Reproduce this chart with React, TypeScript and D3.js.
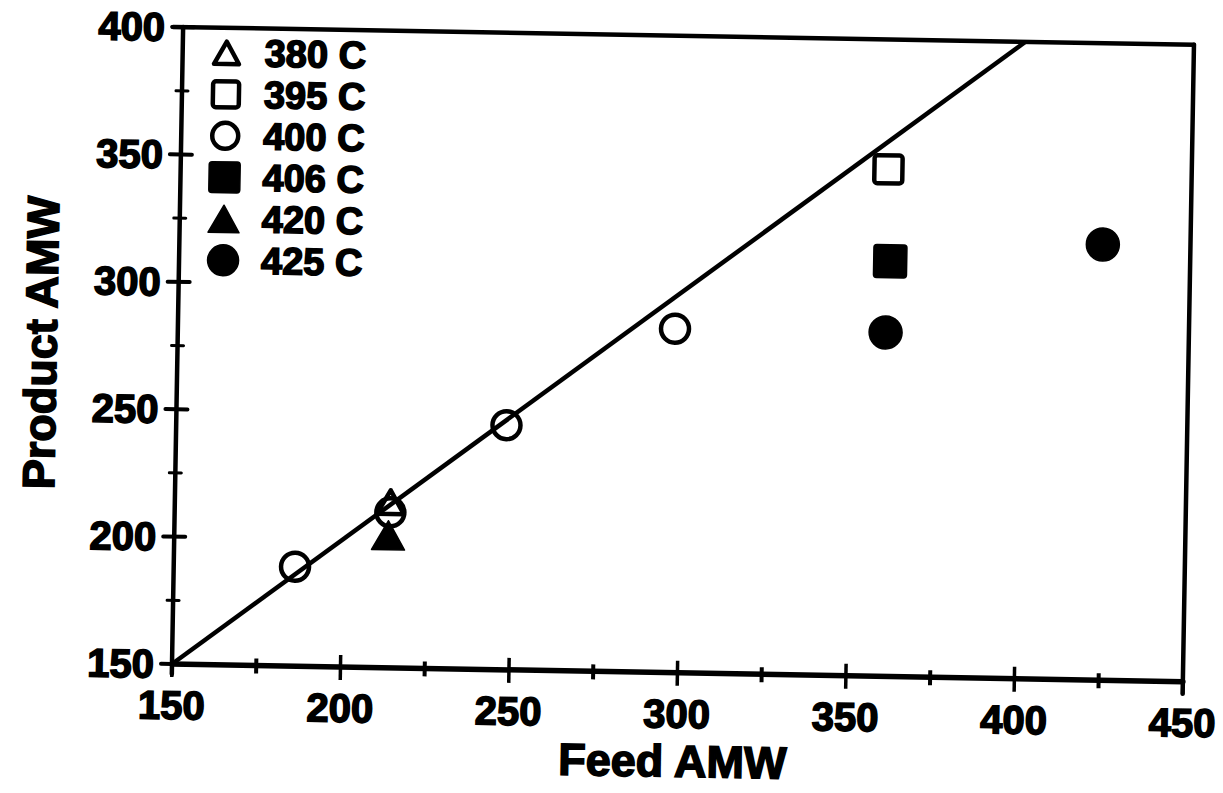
import React from "react";
import * as d3 from "d3";

// Series: reactor temperature, with feed vs. product average molecular weight
const temps = ["380 C", "395 C", "400 C", "406 C", "420 C", "425 C"];
const feedAMW: number[][] = [
  [214],
  [360],
  [186, 214, 248, 297.5],
  [361],
  [213.5],
  [360, 424],
];
const productAMW: number[][] = [
  [215],
  [349],
  [189, 211, 246, 285],
  [313],
  [202],
  [285, 321],
];

// Parity line (product = feed)
const parityX = [150, 400];
const parityY = [150, 400];

const xMajor = [150, 200, 250, 300, 350, 400, 450];
const xMinor = [175, 225, 275, 325, 375, 425];
const yMajor = [150, 200, 250, 300, 350, 400];
const yMinor = [175, 225, 275, 325, 375];

type Shape = "triangle" | "square" | "circle";
const shapes: Shape[] = ["triangle", "square", "circle", "square", "triangle", "circle"];
const filled = [false, false, false, true, true, true];

const W = 1223;
const H = 793;
const left = 172;
const right = 1183;
const top = 27;
const bottom = 664;
const FONT = "'Liberation Sans', Arial, sans-serif";

function Marker({ cx, cy, shape, solid, s }: { cx: number; cy: number; shape: Shape; solid: boolean; s: number }) {
  const sw = solid ? 1.5 : 4.5;
  const common = {
    fill: solid ? "#000" : "none",
    stroke: "#000",
    strokeWidth: sw,
    strokeLinejoin: "round" as const,
  };
  if (shape === "circle") {
    const r = solid ? s / 2 : s / 2 - 2.5;
    return <circle cx={cx} cy={cy} r={r} {...common} />;
  }
  if (shape === "square") {
    const h = solid ? s : s - 5;
    return <rect x={cx - h / 2} y={cy - h / 2} width={h} height={h} rx={3} {...common} />;
  }
  const hw = solid ? s / 2 : s / 2 - 3;
  const hh = solid ? s * 0.44 : s * 0.36;
  const p = d3.path();
  p.moveTo(cx, cy - hh);
  p.lineTo(cx + hw, cy + hh);
  p.lineTo(cx - hw, cy + hh);
  p.closePath();
  return <path d={p.toString()} {...common} />;
}

export default function App() {
  const x = d3.scaleLinear().domain([150, 450]).range([left, right]);
  const y = d3.scaleLinear().domain([150, 400]).range([bottom, top]);
  const line = d3
    .line<number>()
    .x((d) => x(parityX[d]))
    .y((d) => y(parityY[d]));

  const axisStroke = 4.5;
  const legendY0 = 52;
  const legendStep = 41.5;
  const textStroke = 1.6;

  return (
    <svg
      width={W}
      height={H}
      style={{ position: "absolute", left: 0, top: 0, background: "#fff" }}
    >
      <rect width={W} height={H} fill="#fff" />
      <g transform={`rotate(1, ${left}, ${bottom})`}>
        {/* frame */}
        <line x1={left - 10} y1={top} x2={right} y2={top} stroke="#000" strokeWidth={axisStroke} strokeLinecap="round" />
        <line x1={right} y1={top} x2={right} y2={bottom + 12} stroke="#000" strokeWidth={axisStroke} strokeLinecap="round" />
        <line x1={left} y1={bottom} x2={right} y2={bottom} stroke="#000" strokeWidth={axisStroke + 1} strokeLinecap="round" />
        <line x1={left} y1={top} x2={left} y2={bottom + 10} stroke="#000" strokeWidth={axisStroke} strokeLinecap="round" />

        {/* x ticks */}
        {xMajor.map((v) => (
          <line key={`xM${v}`} x1={x(v)} x2={x(v)} y1={bottom - 12} y2={bottom + 13} stroke="#000" strokeWidth={3.5} />
        ))}
        {xMinor.map((v) => (
          <line key={`xm${v}`} x1={x(v)} x2={x(v)} y1={bottom - 7} y2={bottom + 8} stroke="#000" strokeWidth={4} />
        ))}
        {/* y ticks */}
        {yMajor.map((v) => (
          <line key={`yM${v}`} x1={left - 11} x2={left + 11} y1={y(v)} y2={y(v)} stroke="#000" strokeWidth={4} strokeLinecap="round" />
        ))}
        {yMinor.map((v) => (
          <line key={`ym${v}`} x1={left - 6} x2={left + 6} y1={y(v)} y2={y(v)} stroke="#000" strokeWidth={3} strokeLinecap="round" />
        ))}

        {/* tick labels */}
        {xMajor.map((v) => (
          <text
            key={`xl${v}`}
            x={x(v)}
            y={bottom + 55}
            textAnchor="middle"
            fontFamily={FONT}
            fontWeight="bold"
            fontSize={40}
            stroke="#000"
            strokeWidth={textStroke}
          >
            {v}
          </text>
        ))}
        {yMajor.map((v) => (
          <text
            key={`yl${v}`}
            x={left - 18}
            y={y(v) + 14}
            textAnchor="end"
            fontFamily={FONT}
            fontWeight="bold"
            fontSize={40}
            stroke="#000"
            strokeWidth={textStroke}
          >
            {v}
          </text>
        ))}

        {/* axis titles */}
        <text
          x={674}
          y={768}
          textAnchor="middle"
          fontFamily={FONT}
          fontWeight="bold"
          fontSize={45}
          stroke="#000"
          strokeWidth={textStroke}
        >
          Feed AMW
        </text>
        <text
          transform={`translate(51, 345) rotate(-90)`}
          textAnchor="middle"
          fontFamily={FONT}
          fontWeight="bold"
          fontSize={45}
          stroke="#000"
          strokeWidth={textStroke}
        >
          Product AMW
        </text>

        {/* parity line */}
        <path d={line([0, 1]) || ""} fill="none" stroke="#000" strokeWidth={4.5} />

        {/* data */}
        {temps.map((t, i) =>
          feedAMW[i].map((fx, j) => (
            <Marker
              key={`${t}-${j}`}
              cx={x(fx)}
              cy={y(productAMW[i][j])}
              shape={shapes[i]}
              solid={filled[i]}
              s={33}
            />
          ))
        )}

        {/* legend */}
        {temps.map((t, i) => (
          <g key={`lg${t}`}>
            <Marker cx={216} cy={legendY0 + i * legendStep} shape={shapes[i]} solid={filled[i]} s={31} />
            <text
              x={254}
              y={legendY0 + i * legendStep + 13}
              fontFamily={FONT}
              fontWeight="bold"
              fontSize={38}
              stroke="#000"
              strokeWidth={textStroke}
            >
              {t}
            </text>
          </g>
        ))}
      </g>
    </svg>
  );
}
